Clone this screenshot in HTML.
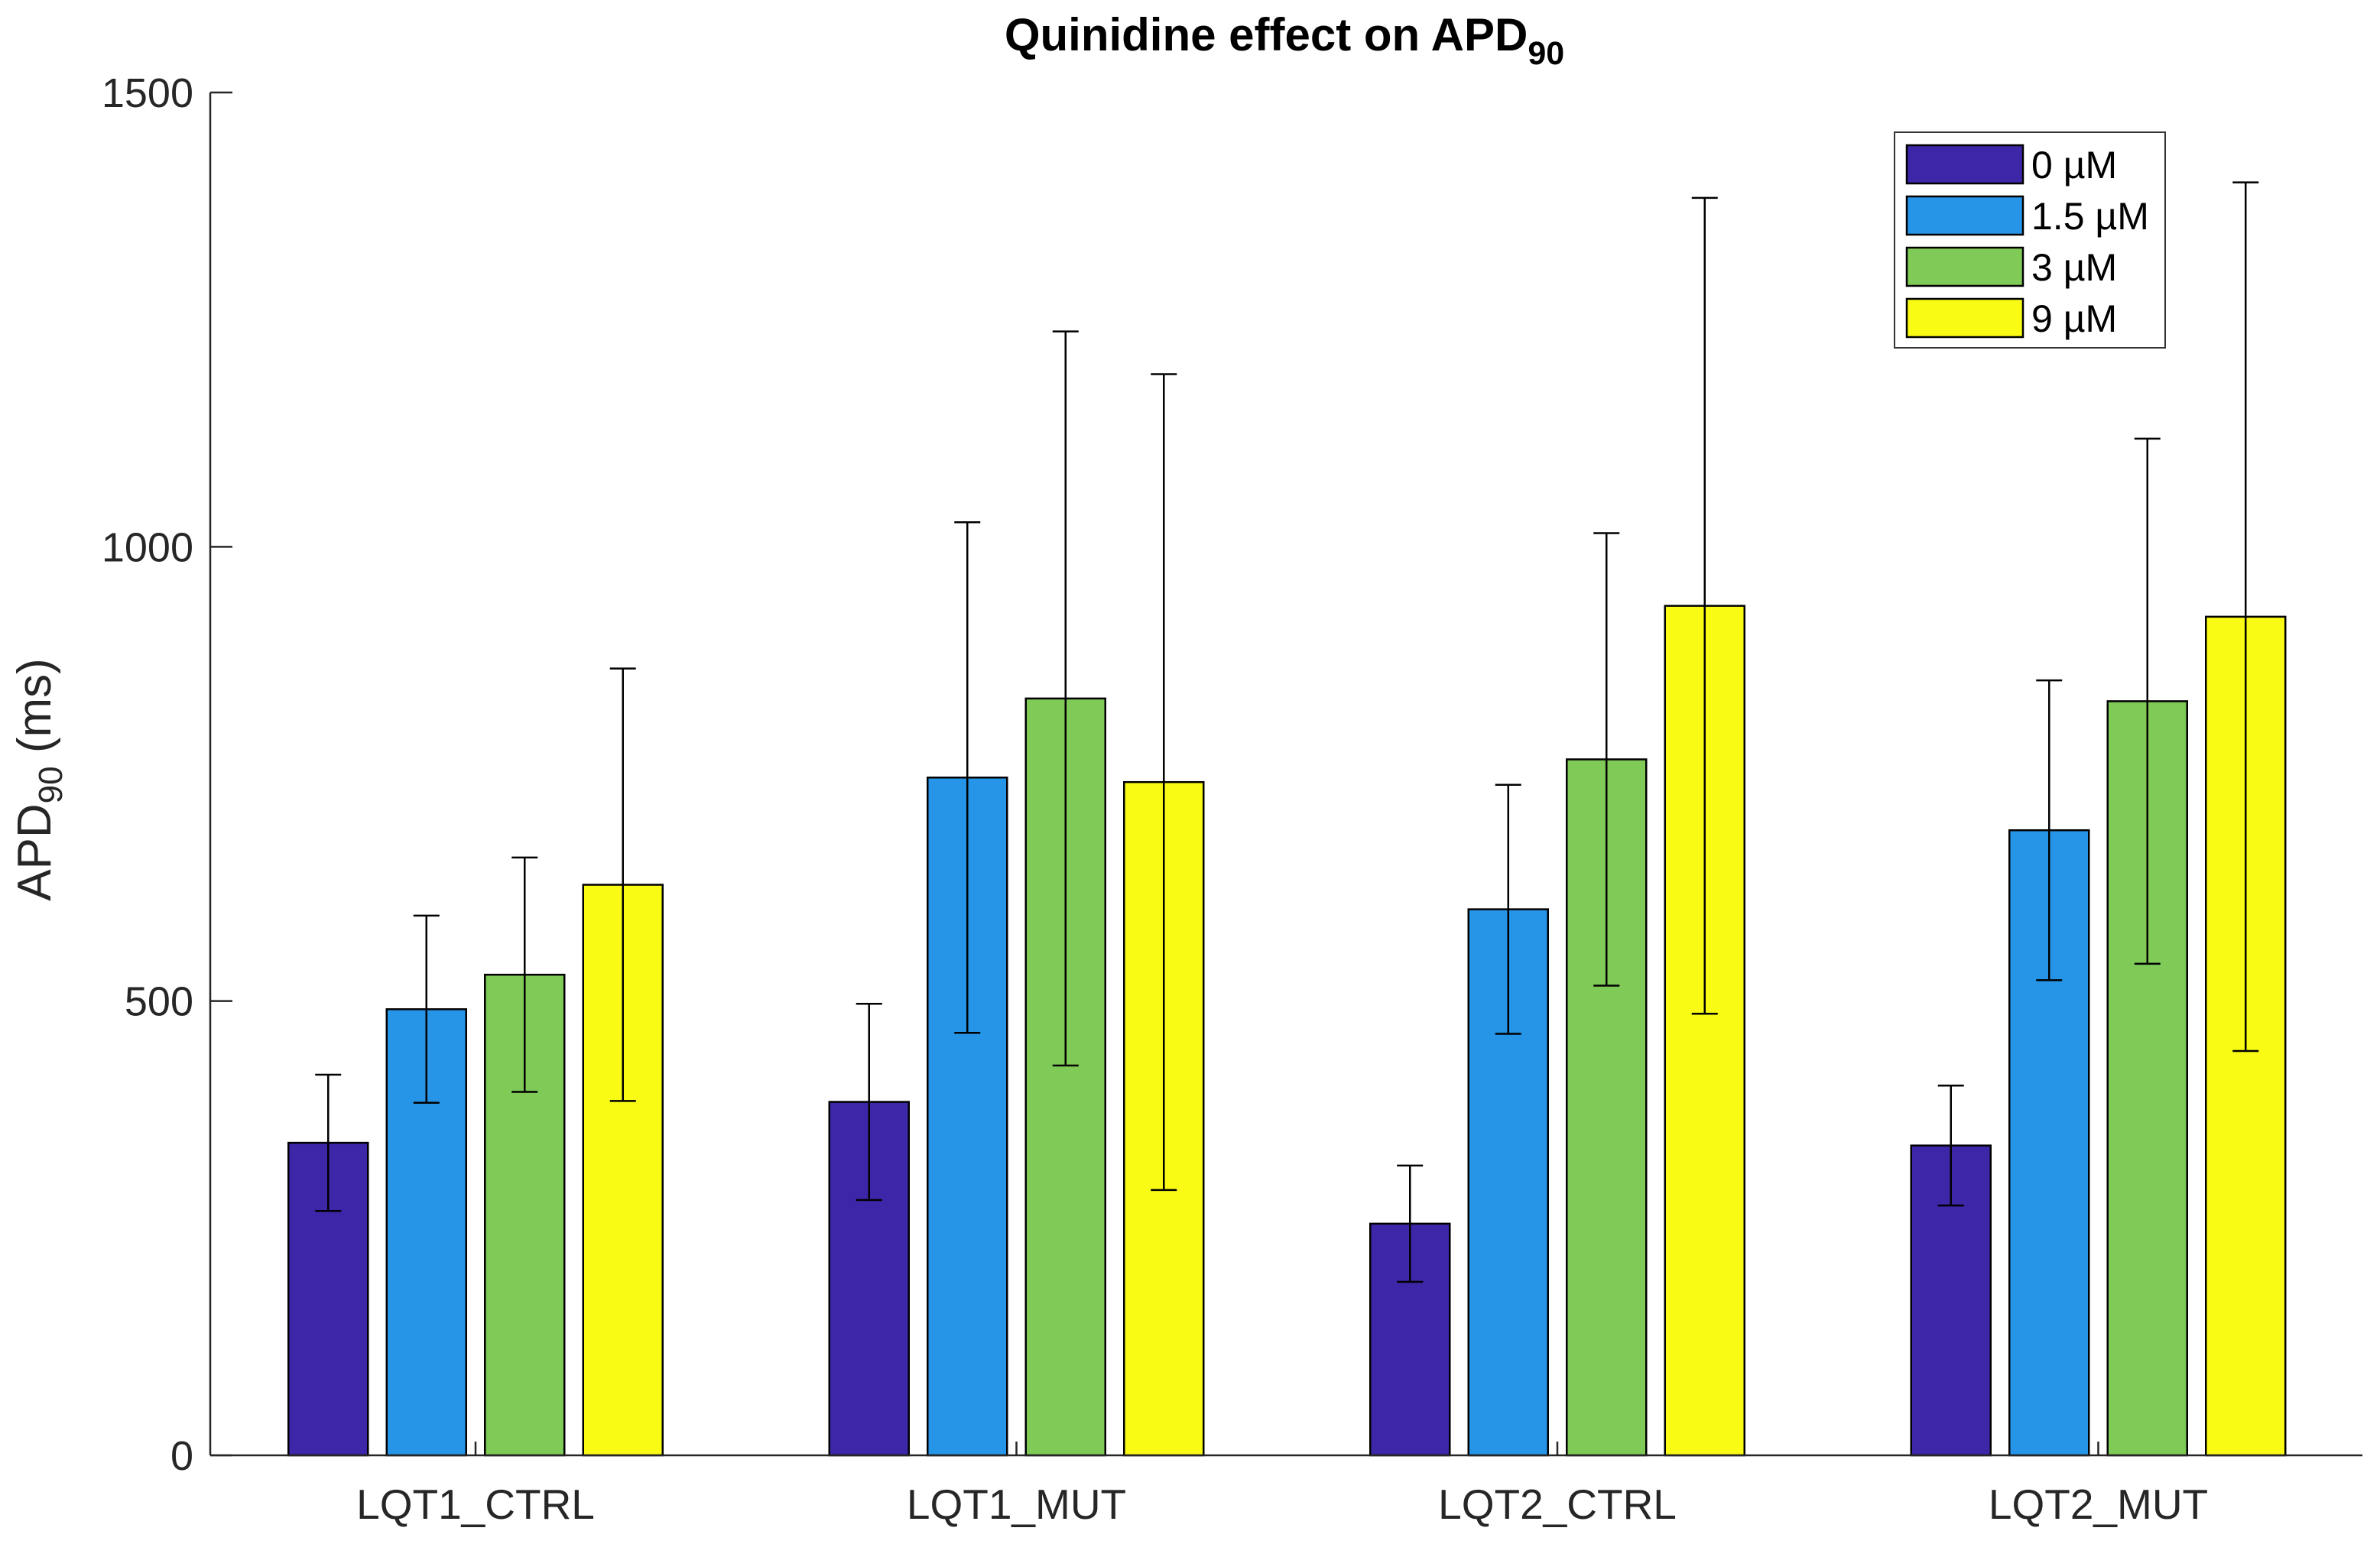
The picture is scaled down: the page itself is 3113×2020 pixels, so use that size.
<!DOCTYPE html>
<html><head><meta charset="utf-8"><style>
html,body{margin:0;padding:0;background:#fff;}
svg{display:block;font-family:"Liberation Sans",Arial,sans-serif;}
</style></head><body>
<svg id="chart" width="3113" height="2020" viewBox="0 0 3113 2020" xmlns="http://www.w3.org/2000/svg">
<rect width="3113" height="2020" fill="#fff"/>
<text x="1680" y="66" font-size="60" font-weight="bold" text-anchor="middle" fill="#000">Quinidine effect on APD<tspan font-size="43" dy="18">90</tspan></text>
<text transform="translate(66,1020) rotate(-90)" font-size="62" text-anchor="middle" fill="#262626">APD<tspan font-size="44" dy="15">90</tspan><tspan dy="-15"> (ms)</tspan></text>
<g id="plot"></g>
<g>
<rect x="2478" y="173" width="354" height="282" fill="#fff" stroke="#333" stroke-width="2"/>
<g id="legend-items"></g>
</g>
</svg>
<script>
const categories = ["LQT1_CTRL","LQT1_MUT","LQT2_CTRL","LQT2_MUT"];
const seriesNames = ["0 µM","1.5 µM","3 µM","9 µM"];
const s0 = [344, 389, 255, 341];
const s1 = [491, 746, 601, 688];
const s2 = [529, 833, 766, 830];
const s3 = [628, 741, 935, 923];
const e0 = [75, 108, 64, 66];
const e1 = [103, 281, 137, 165];
const e2 = [129, 404, 249, 289];
const e3 = [238, 449, 449, 478];
const yTicks = [0, 500, 1000, 1500];
const series = [s0, s1, s2, s3];
const errs = [e0, e1, e2, e3];
const colors = ["#3e26a8","#2795e7","#80cb58","#f9fb15"];

const NS = "http://www.w3.org/2000/svg";
const axL = 275, axR = 3090, y0px = 1904, y1500 = 121;
function yS(v){ return y0px - (v/1500)*(y0px - y1500); }
function xS(i){ return 622 + i*707.5; }
const barW = 104, barStep = 128.5;
function mk(tag, attrs, parent){ const e = document.createElementNS(NS, tag); for (const k in attrs) e.setAttribute(k, attrs[k]); parent.appendChild(e); return e; }
const plot = document.getElementById('plot');

series.forEach((s, si) => {
  s.forEach((v, ci) => {
    const cx = xS(ci) + (si - 1.5)*barStep;
    const r = mk('rect', {x: cx - barW/2, y: yS(v), width: barW, height: yS(0) - yS(v), fill: colors[si], stroke: '#000', 'stroke-width': 2.5}, plot);
    
    
  });
});
series.forEach((s, si) => {
  s.forEach((v, ci) => {
    const cx = xS(ci) + (si - 1.5)*barStep;
    const e = errs[si][ci];
    const g = mk('g', {stroke: '#000', 'stroke-width': 2.5}, plot);
    
    
    mk('line', {x1: cx, x2: cx, y1: yS(v - e), y2: yS(v + e)}, g);
    mk('line', {x1: cx - 17, x2: cx + 17, y1: yS(v - e), y2: yS(v - e)}, g);
    mk('line', {x1: cx - 17, x2: cx + 17, y1: yS(v + e), y2: yS(v + e)}, g);
  });
});
const ax = mk('g', {stroke: '#262626', 'stroke-width': 2.5}, plot);


mk('line', {x1: axL, x2: axL, y1: y1500, y2: y0px}, ax);
mk('line', {x1: axL, x2: axR, y1: y0px, y2: y0px}, ax);
yTicks.forEach(t => {
  const l = mk('line', {x1: axL, x2: axL + 29, y1: yS(t), y2: yS(t)}, ax);
  
  
  const tx = mk('text', {x: axL - 22, y: yS(t) + 19, 'font-size': 54, 'text-anchor': 'end', fill: '#262626', stroke: 'none'}, plot);
  tx.textContent = t;
  
  
});
categories.forEach((c, ci) => {
  const l = mk('line', {x1: xS(ci), x2: xS(ci), y1: y0px, y2: y0px - 18}, ax);
  
  
  const tx = mk('text', {x: xS(ci), y: 1987, 'font-size': 55, 'text-anchor': 'middle', fill: '#262626'}, plot);
  tx.textContent = c;
  
  
});
const lg = document.getElementById('legend-items');
seriesNames.forEach((n, i) => {
  const y = 190 + i*67;
  const r = mk('rect', {x: 2494, y: y, width: 152, height: 50, fill: colors[i], stroke: '#000', 'stroke-width': 2.5}, lg);
  
  
  const t = mk('text', {x: 2657, y: y + 43, 'font-size': 50, fill: '#000'}, lg);
  t.textContent = n;
  
  
});
</script>
</body></html>
